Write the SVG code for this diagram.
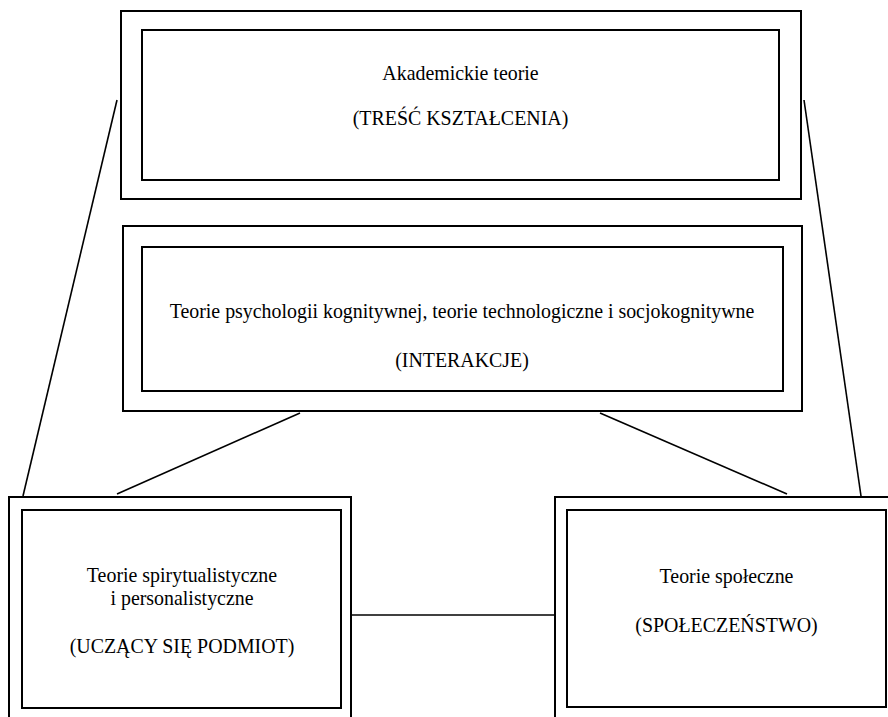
<svg xmlns="http://www.w3.org/2000/svg" width="888" height="717" viewBox="0 0 888 717">
<style>
.box{fill:none;stroke:#000;stroke-width:2}
.ln{fill:none;stroke:#000;stroke-width:1.6}
text{font-family:"Liberation Serif","Times New Roman",serif;font-size:19.9px;fill:#000;text-anchor:middle}
</style>
<rect width="888" height="717" fill="#fff"/>
<g id="connectors">
<line class="ln" x1="117" y1="100" x2="23" y2="496"/>
<line class="ln" x1="804" y1="100" x2="861" y2="496"/>
<line class="ln" x1="300" y1="413" x2="117" y2="494"/>
<line class="ln" x1="600" y1="413" x2="787" y2="494"/>
<line class="ln" x1="351" y1="615" x2="555" y2="615"/>
</g>
<g id="node-akademickie">
<rect class="box" x="121" y="11" width="680" height="188"/>
<rect class="box" x="142" y="30" width="637" height="150"/>
<text x="460.5" y="80">Akademickie teorie</text>
<text x="460.5" y="125">(TREŚĆ KSZTAŁCENIA)</text>
</g>
<g id="node-kognitywne">
<rect class="box" x="123" y="226" width="679" height="185"/>
<rect class="box" x="142" y="247" width="641" height="144"/>
<text x="462" y="318">Teorie psychologii kognitywnej, teorie technologiczne i socjokognitywne</text>
<text x="462" y="367">(INTERAKCJE)</text>
</g>
<g id="node-spirytualistyczne">
<rect class="box" x="9" y="497" width="342" height="240"/>
<rect class="box" x="22" y="510" width="319" height="198"/>
<text x="182" y="582">Teorie spirytualistyczne</text>
<text x="182" y="605">i personalistyczne</text>
<text x="182" y="653">(UCZĄCY SIĘ PODMIOT)</text>
</g>
<g id="node-spoleczne">
<rect class="box" x="555" y="497" width="350" height="240"/>
<rect class="box" x="567" y="510" width="319" height="197"/>
<text x="726.5" y="583">Teorie społeczne</text>
<text x="726.5" y="632">(SPOŁECZEŃSTWO)</text>
</g>
</svg>
